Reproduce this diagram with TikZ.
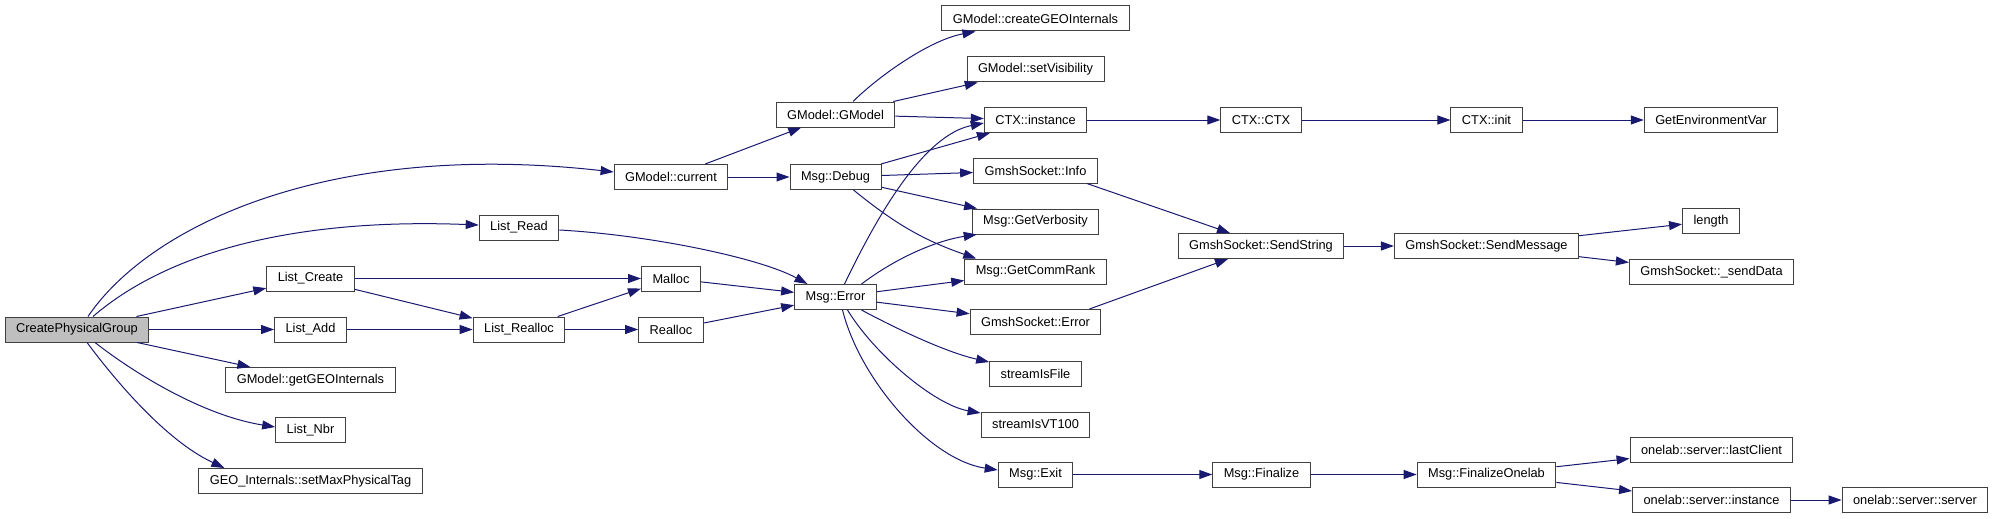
\documentclass[tikz,border=0pt]{standalone}
\usepackage{fontspec}
\setmainfont{Liberation Sans}
\usetikzlibrary{arrows.meta}

\definecolor{edgeblue}{HTML}{191970}
\definecolor{boxline}{HTML}{404040}

\begin{document}
\begin{tikzpicture}[x=1pt, y=-1pt, font=\fontsize{12.8}{14}\selectfont,
    fn/.style={draw=boxline, line width=1pt, fill=white, minimum height=25pt, inner xsep=11pt, inner ysep=0pt},
    root/.style={fn, fill=black!25},
    call/.style={draw=edgeblue, line width=1pt, -{Triangle[length=13pt, width=9pt]}}]
        \useasboundingbox (0,0) rectangle (1992,519);

        % Caller
        \node[root] (cpg) at (77,329.5) {CreatePhysicalGroup};

        % First rank
        \node[fn] (lcreate) at (310.5,278.5) {List\_Create};
        \node[fn] (ladd) at (310.5,329.5) {List\_Add};
        \node[fn] (geoint) at (310.5,380) {GModel::getGEOInternals};
        \node[fn] (lnbr) at (310.5,430) {List\_Nbr};
        \node[fn] (setmax) at (310.5,481) {GEO\_Internals::setMaxPhysicalTag};

        % Second rank
        \node[fn] (lread) at (519,227.5) {List\_Read};
        \node[fn] (lrealloc) at (519,329.5) {List\_Realloc};

        % Third rank
        \node[fn] (cur) at (671,177) {GModel::current};
        \node[fn] (malloc) at (671,278.5) {Malloc};
        \node[fn] (realloc) at (671,329.5) {Realloc};

        % Fourth rank
        \node[fn] (gmodel) at (835.5,114.5) {GModel::GModel};
        \node[fn] (debug) at (835.5,177) {Msg::Debug};
        \node[fn] (error) at (835.5,297) {Msg::Error};

        % Fifth rank
        \node[fn] (creategeo) at (1035.5,18.5) {GModel::createGEOInternals};
        \node[fn] (setvis) at (1035.5,69.5) {GModel::setVisibility};
        \node[fn] (ctxinst) at (1035.5,120) {CTX::instance};
        \node[fn] (sinfo) at (1035.5,170.5) {GmshSocket::Info};
        \node[fn] (verb) at (1035.5,221.5) {Msg::GetVerbosity};
        \node[fn] (commrank) at (1035.5,271.5) {Msg::GetCommRank};
        \node[fn] (serror) at (1035.5,322) {GmshSocket::Error};
        \node[fn] (sfile) at (1035.5,373.5) {streamIsFile};
        \node[fn] (svt) at (1035.5,424.5) {streamIsVT100};
        \node[fn] (exit) at (1035.5,474.5) {Msg::Exit};

        % Sixth rank
        \node[fn] (ctx) at (1261,120) {CTX::CTX};
        \node[fn] (sendstr) at (1261,246) {GmshSocket::SendString};
        \node[fn] (fin) at (1261.5,474.5) {Msg::Finalize};

        % Seventh rank
        \node[fn] (init) at (1486.5,120) {CTX::init};
        \node[fn] (sendmsg) at (1486.5,246) {GmshSocket::SendMessage};
        \node[fn] (finone) at (1486.5,474.5) {Msg::FinalizeOnelab};

        % Eighth rank
        \node[fn] (getenv) at (1711,120) {GetEnvironmentVar};
        \node[fn] (len) at (1711,221) {length};
        \node[fn] (senddata) at (1711.5,272) {GmshSocket::\_sendData};
        \node[fn] (lastcl) at (1711.5,449.5) {onelab::server::lastClient};
        \node[fn] (srvinst) at (1711.5,500) {onelab::server::instance};
        \node[fn] (srv) at (1915,500) {onelab::server::server};

        % Calls from CreatePhysicalGroup
        \draw[call] ([xshift=11pt]cpg.north) .. controls (150,225) and (330,140) .. ([yshift=5pt]cur.west);
        \draw[call] ([xshift=16pt]cpg.north) .. controls (170,250) and (300,218) .. ([yshift=2.5pt]lread.west);
        \draw[call] (cpg) -- (lcreate);
        \draw[call] (cpg) -- (ladd);
        \draw[call] (cpg) -- (geoint);
        \draw[call] ([xshift=18pt]cpg.south) .. controls (130,370) and (200,415) .. ([yshift=3pt]lnbr.west);
        \draw[call] ([xshift=10pt]cpg.south) .. controls (115,380) and (165,440) .. ([xshift=26pt]setmax.north west);

        % List calls
        \draw[call] (lcreate) -- (malloc);
        \draw[call] (lcreate) -- (lrealloc);
        \draw[call] (ladd) -- (lrealloc);
        \draw[call] (lrealloc) -- (malloc);
        \draw[call] (lrealloc) -- (realloc);
        \draw[call] ([yshift=-2.5pt]lread.east) .. controls (650,235) and (760,258) .. ([xshift=-28pt]error.north);
        \draw[call] (malloc) -- (error);
        \draw[call] (realloc) -- (error);

        % GModel calls
        \draw[call] (cur) -- (gmodel);
        \draw[call] (cur) -- (debug);
        \draw[call] ([xshift=17.5pt]gmodel.north) .. controls (880,75) and (930,40) .. ([xshift=34pt]creategeo.south west);
        \draw[call] (gmodel) -- (setvis);
        \draw[call] (gmodel) -- (ctxinst);

        % Msg::Debug calls
        \draw[call] (debug) -- (ctxinst);
        \draw[call] (debug) -- (sinfo);
        \draw[call] (debug) -- (verb);
        \draw[call] ([xshift=18pt]debug.south) to[bend right=10] ([xshift=12pt]commrank.north west);

        % Msg::Error calls
        \draw[call] ([xshift=9pt]error.north) .. controls (880,210) and (925,135) .. ([yshift=-3pt]ctxinst.west);
        \draw[call] ([xshift=26pt]error.north) .. controls (900,255) and (940,240) .. ([xshift=5pt]verb.south west);
        \draw[call] (error) -- (commrank);
        \draw[call] (error) -- (serror);
        \draw[call] ([xshift=26pt]error.south) .. controls (895,328) and (945,352) .. ([yshift=11.5pt]sfile.west);
        \draw[call] ([xshift=12pt]error.south) .. controls (875,355) and (935,405) .. ([yshift=11.5pt]svt.west);
        \draw[call] ([xshift=7pt]error.south) .. controls (860,380) and (930,460) .. ([yshift=4.5pt]exit.west);

        % CTX chain
        \draw[call] (ctxinst) -- (ctx);
        \draw[call] (ctx) -- (init);
        \draw[call] (init) -- (getenv);

        % Socket chain
        \draw[call] ([xshift=-11pt]sinfo.south east) -- ([xshift=-31pt]sendstr.north);
        \draw[call] ([xshift=-12pt]serror.north east) -- ([xshift=-33pt]sendstr.south);
        \draw[call] (sendstr) -- (sendmsg);
        \draw[call] (sendmsg) -- (len);
        \draw[call] (sendmsg) -- (senddata);

        % Exit chain
        \draw[call] (exit) -- (fin);
        \draw[call] (fin) -- (finone);
        \draw[call] (finone) -- (lastcl);
        \draw[call] (finone) -- (srvinst);
        \draw[call] (srvinst) -- (srv);
      \end{tikzpicture}
\end{document}
